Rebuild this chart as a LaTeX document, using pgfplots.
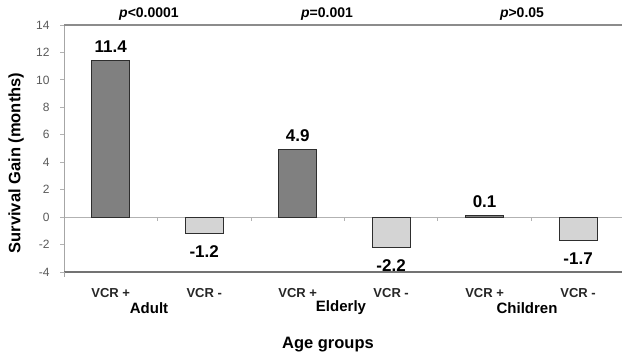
\documentclass[border=0pt]{standalone}
\usepackage{pgfplots}
\pgfplotsset{compat=1.18}
\usepackage{fontspec}
\setmainfont{Liberation Sans}
\definecolor{darkbar}{HTML}{808080}
\definecolor{lightbar}{HTML}{D4D4D4}
\definecolor{edge}{HTML}{2E2E2E}
\begin{document}
\begin{tikzpicture}[x=1pt,y=1pt]
\useasboundingbox (0,0) rectangle (622,360);
\begin{axis}[
  at={(64pt,88pt)}, anchor=south west,
  scale only axis, width=558pt, height=247pt,
  xmin=-0.5, xmax=5.47, ymin=-4, ymax=14,
  axis line style={draw=none},
  xtick={0,...,5}, xticklabels={VCR +,VCR -,VCR +,VCR -,VCR +,VCR -},
  xticklabel style={font=\fontsize{13}{13}\selectfont\bfseries, yshift=-17pt, color=black!85, anchor=center},
  xtick style={draw=none},
  ytick={-4,-2,...,14}, yticklabels={-4,-2,0,2,4,6,8,10,12,14},
  yticklabel style={font=\fontsize{12}{12}\selectfont, color=black!65, xshift=-7pt},
  ytick style={draw=black!30, line width=0.8pt},
  tick align=outside, major tick length=4pt,
  clip=false,
  point meta=explicit symbolic,
]
\draw[black!30, line width=0.8pt] (axis cs:-0.5,0) -- (axis cs:5.47,0);
\pgfplotsinvokeforeach{0.5,1.5,2.5,3.5,4.5}{\draw[black!30, line width=0.8pt] (axis cs:#1,0) -- ++(0pt,-4pt);}
\draw[black!35, line width=1pt] (rel axis cs:0,0) -- (rel axis cs:0,1);
\draw[black!45, line width=2pt] (rel axis cs:0,1) -- (rel axis cs:1,1);
\draw[black!55, line width=1.5pt] (rel axis cs:0,0) -- (rel axis cs:1,0);
\draw[black!35, line width=1pt] (rel axis cs:0,0) -- ++(0pt,-5pt);
\addplot[ybar, bar width=38pt, bar shift=0pt, fill=darkbar, draw=edge, line width=1.1pt,
  nodes near coords={\pgfplotspointmeta},
  every node near coord/.append style={font=\fontsize{17}{17}\selectfont\bfseries, anchor=center, yshift=14pt, text=black}]
  coordinates {(0,11.4)[11.4] (2,4.9)[4.9] (4,0.1)[0.1]};
\addplot[ybar, bar width=38pt, bar shift=0pt, fill=lightbar, draw=edge, line width=1.1pt,
  nodes near coords={\pgfplotspointmeta},
  every node near coord/.append style={font=\fontsize{17}{17}\selectfont\bfseries, anchor=center, yshift=-18pt, text=black}]
  coordinates {(1,-1.2)[-1.2] (3,-2.2)[-2.2] (5,-1.7)[-1.7]};
\end{axis}
\begin{scope}[every node/.style={font=\fontsize{14}{14}\selectfont\bfseries}]
\node at (149,346) {\textit{p}<0.0001};
\node at (327,346) {\textit{p}=0.001};
\node at (522,346) {\textit{p}>0.05};
\end{scope}
\begin{scope}[every node/.style={font=\fontsize{15}{15}\selectfont\bfseries}]
\node at (149,52) {Adult};
\node at (341,52) {Elderly};
\node at (527,52) {Children};
\end{scope}
\node[font=\fontsize{16.5}{16.5}\selectfont\bfseries] at (328,15) {Age groups};
\node[font=\fontsize{16.5}{16.5}\selectfont\bfseries, rotate=90] at (16,197) {Survival Gain (months)};
\end{tikzpicture}
\end{document}
